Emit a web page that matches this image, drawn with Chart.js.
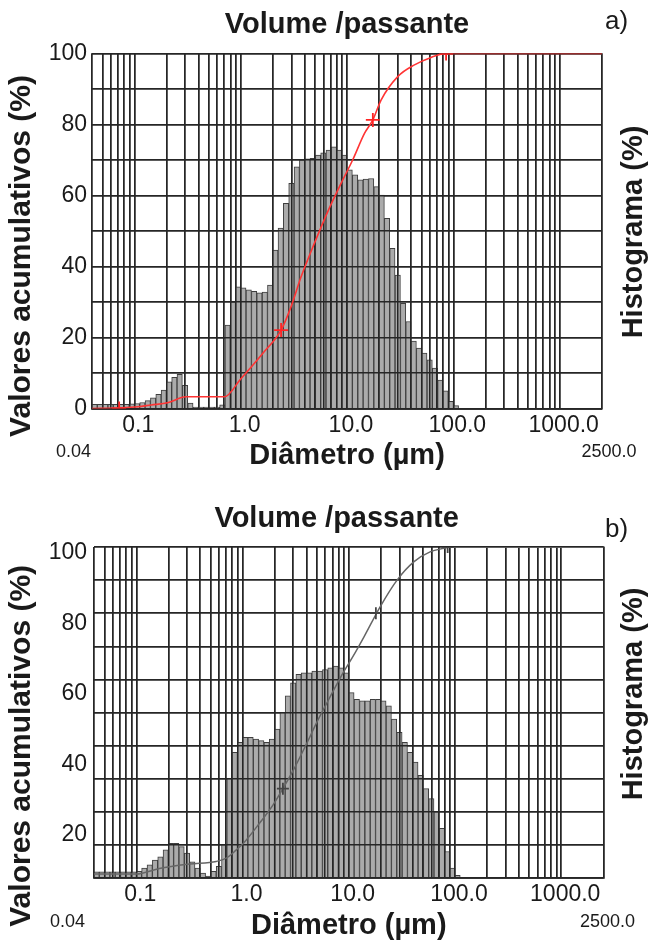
<!DOCTYPE html>
<html>
<head>
<meta charset="utf-8">
<script src="https://cdn.jsdelivr.net/npm/chart.js@4.4.1/dist/chart.umd.min.js"></script>
<style>
  html, body { margin: 0; padding: 0; background: #ffffff; }
  canvas { display: block; }
</style>
</head>
<body>
<canvas id="chartA" width="649" height="476"></canvas>
<canvas id="chartB" width="649" height="465"></canvas>
<script>
// ---------------- data ----------------
const binDiameters = [
  0.0423, 0.0475, 0.0533, 0.0598, 0.0671, 0.0753, 0.0845, 0.0948, 0.106, 0.119,
  0.134, 0.150, 0.169, 0.189, 0.212, 0.238, 0.267, 0.300, 0.337, 0.378,
  0.424, 0.476, 0.534, 0.599, 0.672, 0.754, 0.846, 0.949, 1.06, 1.19,
  1.34, 1.50, 1.69, 1.89, 2.12, 2.38, 2.67, 3.00, 3.37, 3.78,
  4.24, 4.76, 5.34, 5.99, 6.72, 7.54, 8.46, 9.49, 10.6, 11.9,
  13.4, 15.0, 16.9, 18.9, 21.2, 23.8, 26.7, 30.0, 33.7, 37.8,
  42.4, 47.6, 53.4, 59.9, 67.2, 75.4, 84.6, 94.9, 106
];
const histogramA = [
  1.2, 1.2, 1.2, 1.2, 1.2, 1.2, 1.2, 1.3, 1.4, 1.7,
  2.2, 3.0, 4.0, 5.2, 7.5, 8.8, 9.6, 6.5, 1.5, 0.4,
  0.4, 0.4, 0.4, 0.4, 1.0, 23.5, 30.0, 34.3, 34.0, 33.4,
  33.0, 32.6, 32.8, 34.8, 44.6, 50.8, 57.8, 63.4, 68.1, 70.0,
  70.3, 70.5, 71.4, 72.0, 72.8, 73.7, 72.8, 71.4, 67.2, 65.8,
  64.4, 64.6, 64.8, 62.5, 60.1, 53.6, 45.1, 37.6, 29.6, 24.5,
  19.0, 17.0, 15.6, 13.7, 11.4, 8.0, 5.0, 2.0, 0.8
];
const histogramB = [
  1.9, 1.9, 1.9, 1.9, 1.9, 1.9, 1.9, 1.9, 2.0, 3.0,
  4.0, 5.4, 6.4, 8.5, 10.5, 10.5, 9.5, 7.5, 4.9, 3.0,
  1.5, 0.6, 2.0, 3.5, 10.0, 30.0, 38.0, 41.0, 42.5, 42.5,
  42.0, 41.5, 41.0, 42.0, 45.0, 50.0, 55.0, 59.0, 61.5, 62.0,
  62.0, 62.5, 62.5, 63.0, 63.5, 64.0, 63.5, 62.0, 56.0, 54.0,
  53.5, 53.5, 54.0, 54.0, 53.5, 52.0, 48.0, 44.0, 41.0, 38.0,
  35.0, 31.0, 27.0, 24.0, 20.0, 15.0, 8.0, 3.0, 0.8
];
const cumulativeDiametersA = [0.04, 0.072, 0.108, 0.144, 0.206, 0.306, 0.424, 0.703, 1.0, 1.61, 2.4, 2.98, 3.70, 4.93, 6.58, 8.79, 11.3, 14.6, 17.5, 20.9, 30.0, 43.1, 61.8, 85.5, 2500];
const cumulativeValuesA    = [0,    0.2,   0.5,   1.0,   1.6,   3.3,   3.3,   3.3,   8.3, 15.5, 22.1, 28.7, 37.1, 46.5, 55.4, 63.4, 70.0, 77.5, 81.3, 86.9, 93.5, 96.8, 98.9, 100,  100];
const markerDiametersA = [0.072, 2.4, 17.5, 85.5];
const markerValuesA    = [0,     22.1, 81.3, 100];

const cumulativeDiametersB = [0.04, 0.1, 0.165, 0.316, 0.566, 0.703, 0.875, 1.02, 1.45, 1.94, 2.4, 3.0, 4.0, 5.0, 6.5, 8.5, 11, 14, 19.8, 28.5, 40.9, 58.9, 78.7, 90, 2500];
const cumulativeValuesB    = [1.2,  1.2, 2.9,   4.2,   5.0,   6.0,   8.5,   10.5, 16.6, 22.1, 27.0, 32.5, 40.5, 47, 54, 61, 67, 73, 82, 90, 95.5, 98.6, 99.6, 100, 100];
const markerDiametersB = [2.4, 18, 85.3];
const markerValuesB    = [27,  80, 100];

const xGridValues = [0.04, 0.05, 0.06, 0.07, 0.08, 0.09, 0.1, 0.2, 0.3, 0.4, 0.5, 0.6, 0.7, 0.8, 0.9,
  1, 2, 3, 4, 5, 6, 7, 8, 9, 10, 20, 30, 40, 50, 60, 70, 80, 90,
  100, 200, 300, 400, 500, 600, 700, 800, 900, 1000, 2500];
const xLabelValues = [0.1, 1, 10, 100, 1000];
const xLabelTexts  = ['0.1', '1.0', '10.0', '100.0', '1000.0'];
const yLabelValuesA = [0, 20, 40, 60, 80, 100];
const yLabelValuesB = [20, 40, 60, 80, 100];
const edgeLabels = ['0.04', '2500.0'];
const panelLabels = ['a)', 'b)'];
const chartTitle = 'Volume /passante';
const xTitle = 'Diâmetro (µm)';
const yTitle = 'Valores acumulativos (%)';
const y2Title = 'Histograma (%)';

// ---------------- helpers ----------------
const FONT = "'Liberation Sans', Arial, sans-serif";
const INK = '#1a1a1a';
const NB = '\u00A0';

const gridOnTop = {
  id: 'gridOnTop',
  afterDatasetDraw(chart, args) {
    if (args.meta.type !== 'bar') return;
    const ctx = chart.ctx;
    ctx.save();
    chart.scales.x.drawGrid(chart.chartArea);
    chart.scales.y.drawGrid(chart.chartArea);
    if (chart.scales.x.drawBorder) chart.scales.x.drawBorder();
    ctx.restore();
  }
};

const extraText = {
  id: 'extraText',
  afterDraw(chart, args, opts) {
    const ctx = chart.ctx;
    (opts.items || []).forEach(it => {
      ctx.save();
      ctx.font = it.font;
      ctx.fillStyle = it.color || INK;
      ctx.textAlign = it.align;
      ctx.textBaseline = 'middle';
      ctx.translate(it.x, it.y);
      if (it.rotate) ctx.rotate(it.rotate);
      ctx.fillText(it.text, 0, 0);
      ctx.restore();
    });
  }
};

function points(xs, ys) { return xs.map((x, i) => ({ x: x, y: ys[i] })); }

function makeChart(id, p) {
  return new Chart(document.getElementById(id), {
    type: 'bar',
    data: {
      datasets: [
        {
          type: 'line',
          data: points(p.markerD, p.markerV),
          showLine: false,
          pointStyle: 'cross',
          pointRadius: p.markerRadius,
          pointBorderWidth: 1.8,
          pointBorderColor: p.markerColor,
          borderColor: p.markerColor,
          xAxisID: 'x', yAxisID: 'y',
          order: 0
        },
        {
          type: 'line',
          data: points(p.cumD, p.cumV),
          borderColor: p.lineColor,
          borderWidth: p.lineWidth,
          pointRadius: 0,
          cubicInterpolationMode: 'monotone',
          fill: false,
          xAxisID: 'x', yAxisID: 'y',
          order: 1
        },
        {
          type: 'bar',
          data: points(binDiameters, p.hist),
          backgroundColor: '#ababab',
          borderColor: '#3e3e3e',
          borderWidth: 1,
          barThickness: 'flex',
          barPercentage: 1,
          categoryPercentage: 1,
          xAxisID: 'x', yAxisID: 'y2',
          order: 3
        }
      ]
    },
    options: {
      responsive: false,
      animation: false,
      events: [],
      layout: { padding: 0 },
      plugins: {
        legend: { display: false },
        tooltip: { enabled: false },
        title: {
          display: true,
          text: p.title,
          fullSize: false,
          color: INK,
          font: { family: FONT, size: 29, weight: 'bold', lineHeight: 1.2 },
          padding: { top: p.titlePadTop, bottom: p.titlePadBottom }
        },
        extraText: { items: p.extra }
      },
      scales: {
        x: {
          type: 'logarithmic',
          position: 'bottom',
          min: 0.04,
          max: 2500,
          offset: false,
          afterBuildTicks: (scale) => { scale.ticks = xGridValues.map(v => ({ value: v })); },
          afterFit: (scale) => { scale.height = p.xHeight; },
          grid: { display: true, offset: false, drawTicks: false, color: '#262626', lineWidth: 1.5 },
          border: { display: true, color: '#262626', width: 1.5 },
          ticks: {
            autoSkip: false, maxRotation: 0, minRotation: 0, padding: 3, labelOffset: 4,
            color: INK, font: { family: FONT, size: 23 },
            callback: (v) => { const i = xLabelValues.indexOf(v); return i >= 0 ? xLabelTexts[i] : ''; }
          },
          title: {
            display: true, text: xTitle, color: INK,
            font: { family: FONT, size: 29, weight: 'bold', lineHeight: 1.0 },
            padding: { top: 0, bottom: p.xTitlePad }
          }
        },
        // cumulative values (grid every 10 %), zero width
        y: {
          type: 'linear',
          position: 'left',
          weight: 0,
          min: 0, max: 100,
          afterFit: (scale) => { scale.width = 0; },
          grid: { display: true, drawTicks: false, color: '#262626', lineWidth: 1.5 },
          border: { display: false },
          ticks: { display: false, stepSize: 10 },
          title: { display: false }
        },
        // printed value labels and title of the left axis
        yl: {
          type: 'linear',
          position: 'left',
          weight: 1,
          min: p.labelMin, max: p.labelMax,
          afterBuildTicks: (scale) => { scale.ticks = p.yLabels.map(v => ({ value: v })); },
          afterFit: (scale) => { scale.width = p.yWidth; },
          grid: { display: false, drawTicks: false },
          border: { display: false },
          ticks: { autoSkip: false, padding: p.yTickPad, color: INK, font: { family: FONT, size: 23 }, callback: (v) => String(v) },
          title: {
            display: true, text: p.yTitleText, color: INK,
            font: { family: FONT, size: 30, weight: 'bold', lineHeight: 1.0 },
            padding: { top: 7, bottom: 0 }
          }
        },
        // histogram
        y2: {
          type: 'linear',
          position: 'right',
          min: 0, max: 100,
          afterFit: (scale) => { scale.width = p.y2Width; },
          grid: { display: false, drawTicks: false },
          border: { display: true, color: '#6e6e6e', width: 1.5 },
          ticks: { display: false },
          title: { display: false }
        }
      }
    },
    plugins: [gridOnTop, extraText]
  });
}

makeChart('chartA', {
  hist: histogramA,
  cumD: cumulativeDiametersA, cumV: cumulativeValuesA,
  markerD: markerDiametersA, markerV: markerValuesA,
  lineColor: '#ff3434', lineWidth: 1.6, markerColor: '#ff2424', markerRadius: 7,
  title: chartTitle,
  titlePadTop: 7.6, titlePadBottom: 11.1,
  xHeight: 67.5, xTitlePad: 5.5,
  yWidth: 92, y2Width: 47, yTickPad: 5,
  labelMin: 0, labelMax: 100,
  yLabels: yLabelValuesA,
  yTitleText: yTitle + NB.repeat(6),
  extra: [
    { text: panelLabels[0], x: 605, y: 21.5, align: 'left', font: '26px ' + FONT },
    { text: edgeLabels[0], x: 91, y: 452.5, align: 'right', font: '18px ' + FONT },
    { text: edgeLabels[1], x: 609, y: 452.5, align: 'center', font: '18px ' + FONT },
    { text: y2Title, x: 634, y: 232, align: 'center', rotate: -Math.PI / 2, font: 'bold 29px ' + FONT }
  ]
});

makeChart('chartB', {
  hist: histogramB,
  cumD: cumulativeDiametersB, cumV: cumulativeValuesB,
  markerD: markerDiametersB, markerV: markerValuesB,
  lineColor: '#666666', lineWidth: 1.5, markerColor: '#444444', markerRadius: 6,
  title: chartTitle + NB.repeat(3),
  titlePadTop: 25.6, titlePadBottom: 10.6,
  xHeight: 63, xTitlePad: 0.5,
  yWidth: 94, y2Width: 45.5, yTickPad: 7,
  labelMin: 7.8, labelMax: 101.7,
  yLabels: yLabelValuesB,
  yTitleText: yTitle + NB.repeat(8),
  extra: [
    { text: panelLabels[1], x: 605, y: 54, align: 'left', font: '26px ' + FONT },
    { text: edgeLabels[0], x: 85, y: 446, align: 'right', font: '18px ' + FONT },
    { text: edgeLabels[1], x: 607.5, y: 446, align: 'center', font: '18px ' + FONT },
    { text: y2Title, x: 634, y: 218, align: 'center', rotate: -Math.PI / 2, font: 'bold 29px ' + FONT }
  ]
});
</script>
</body>
</html>
